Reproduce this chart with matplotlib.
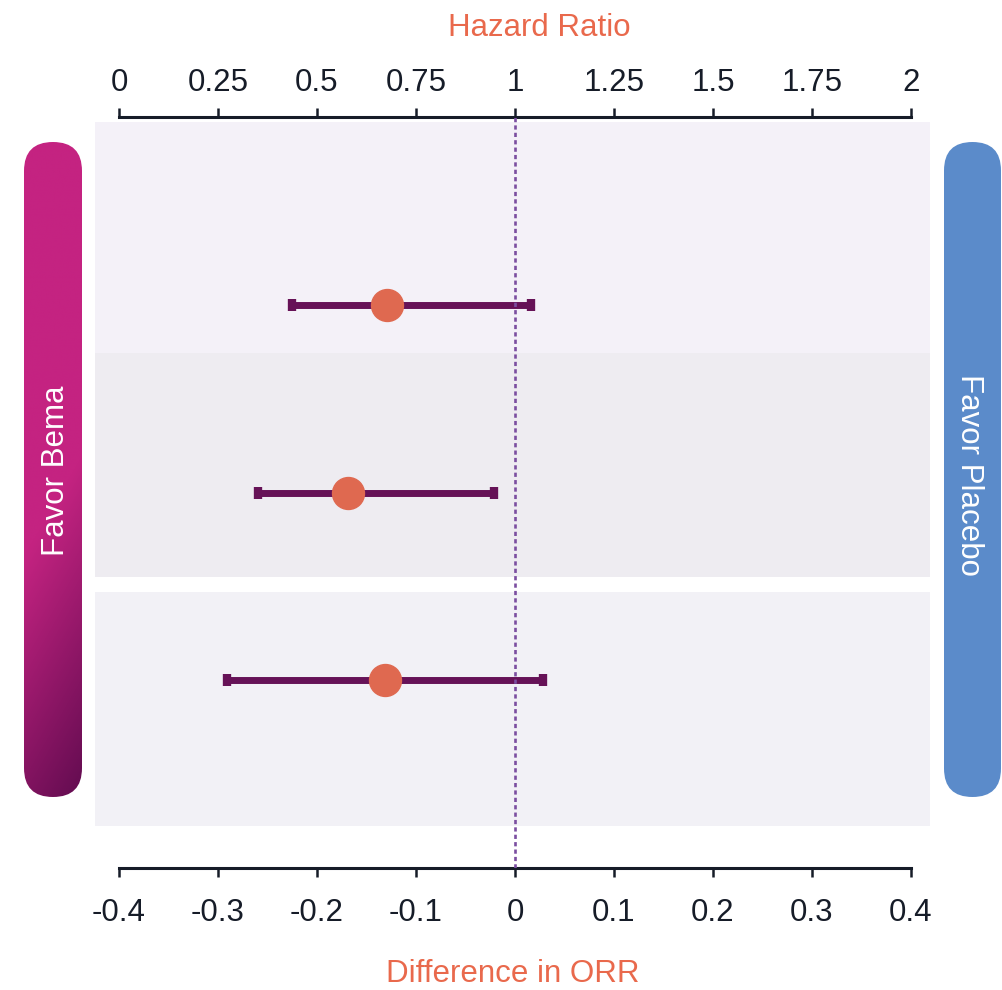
import numpy as np
import matplotlib
matplotlib.use("Agg")
import matplotlib.pyplot as plt
from matplotlib.patches import FancyBboxPatch
from matplotlib.colors import to_rgb

# ---------------- data ----------------
rows = [1, 2, 3]
estimate = [-0.129, -0.169, -0.131]
ci_low = [-0.225, -0.260, -0.291]
ci_high = [0.016, -0.021, 0.028]

orr_ticks = [-0.4, -0.3, -0.2, -0.1, 0, 0.1, 0.2, 0.3, 0.4]
orr_labels = ["-0.4", "-0.3", "-0.2", "-0.1", "0", "0.1", "0.2", "0.3", "0.4"]
hr_ticks = [0, 0.25, 0.5, 0.75, 1, 1.25, 1.5, 1.75, 2]
hr_labels = ["0", "0.25", "0.5", "0.75", "1", "1.25", "1.5", "1.75", "2"]

left_label = "Favor Bema"
right_label = "Favor Placebo"
top_title = "Hazard Ratio"
bottom_title = "Difference in ORR"

# ---------------- style ----------------
plt.rcParams['font.family'] = ['Liberation Sans', 'DejaVu Sans']
FS = 22.5
ink = '#161c28'
accent = '#e9694c'
bar_color = '#661257'
dot_color = '#df6950'
band_colors = ['#f4f1f8', '#eeecf1', '#f2f1f6']
band_edges = [(0.027, 1.257), (1.257, 2.450), (2.530, 3.776)]

W, H = 1003, 990
fig = plt.figure(figsize=(W / 100, H / 100), dpi=100)
fig.patch.set_facecolor('white')

# main axes: plot area 95..930 px horizontally, 117..868 px vertically
ax = fig.add_axes([95 / W, (H - 868) / H, (930 - 95) / W, (868 - 117) / H], zorder=2)
ax.patch.set_alpha(0)
ax.set_xlim((95 - 515) / 990, (930 - 515) / 990)
ax.set_ylim(4, 0)

for (y0, y1), c in zip(band_edges, band_colors):
    ax.axhspan(y0, y1, xmin=0, xmax=1, color=c, lw=0, zorder=0)

xerr = [np.array(estimate) - np.array(ci_low), np.array(ci_high) - np.array(estimate)]
ax.errorbar(estimate, rows, xerr=xerr, fmt='none', ecolor=bar_color,
            elinewidth=5.0, capsize=4.3, capthick=6.0, zorder=2)
ax.plot(estimate, rows, linestyle='none', marker='o', markersize=23,
        color=dot_color, markeredgecolor=dot_color, zorder=3)
ax.axvline(0, color='#7b4ea0', lw=1.9, linestyle=(0, (1.6, 1.2)), zorder=4)

for s in ['left', 'right', 'top']:
    ax.spines[s].set_visible(False)
ax.spines['bottom'].set_bounds(-0.4, 0.4)
ax.spines['bottom'].set_linewidth(2.2)
ax.spines['bottom'].set_color(ink)
ax.set_yticks([])
ax.set_xticks(orr_ticks, labels=orr_labels)
ax.tick_params(axis='x', direction='out', length=6.5, width=1.8, color=ink,
               pad=15, labelsize=FS, labelcolor=ink)

sec = ax.secondary_xaxis('top', functions=(lambda d: 1 + 2.5 * np.asarray(d),
                                           lambda h: (np.asarray(h) - 1) / 2.5))
sec.set_xticks(hr_ticks, labels=hr_labels)
sec.spines['top'].set_bounds(0, 2)
sec.spines['top'].set_linewidth(2.2)
sec.spines['top'].set_color(ink)
sec.tick_params(axis='x', direction='out', length=6.5, width=1.8, color=ink,
                pad=7, labelsize=FS, labelcolor=ink)

# overlay axes for pills (pixel coordinates)
ov = fig.add_axes([0, 0, 1, 1], zorder=1)
ov.patch.set_alpha(0)
ov.axis('off')

pill_l = FancyBboxPatch((24, 142), 58, 655, boxstyle="round,pad=0,rounding_size=29",
                        linewidth=0, facecolor='none')
ov.add_patch(pill_l)
X, Y = np.meshgrid(np.linspace(0, 58, 60), np.linspace(0, 655, 660))
t = (100 * X + 58 * Y) / (100 * 58 + 58 * 655)
s = np.clip((t - 0.55) / 0.45, 0, 1)
c0 = np.array(to_rgb('#c42381'))
c1 = np.array(to_rgb('#620c50'))
img = c0 + (c1 - c0) * s[..., None]
im = ov.imshow(img, extent=(24, 82, 797, 142), origin='upper', aspect='auto',
               interpolation='bilinear', zorder=1)
im.set_clip_path(pill_l)

pill_r = FancyBboxPatch((944, 142), 57, 655, boxstyle="round,pad=0,rounding_size=28.5",
                        linewidth=0, facecolor='#5b8bca', zorder=1)
ov.add_patch(pill_r)

ov.set_xlim(0, W)
ov.set_ylim(H, 0)

ov.text(56, 471, left_label, rotation=90, ha='center', va='center',
        color='white', fontsize=FS, zorder=3)
ov.text(969, 475, right_label, rotation=-90, ha='center', va='center',
        color='white', fontsize=FS, zorder=3)

fig.text(539.5 / W, 1 - 36 / H, top_title, ha='center', va='baseline',
         color=accent, fontsize=FS)
fig.text(513 / W, 1 - 982 / H, bottom_title, ha='center', va='baseline',
         color=accent, fontsize=FS)

fig.savefig('out.png', dpi=100)
